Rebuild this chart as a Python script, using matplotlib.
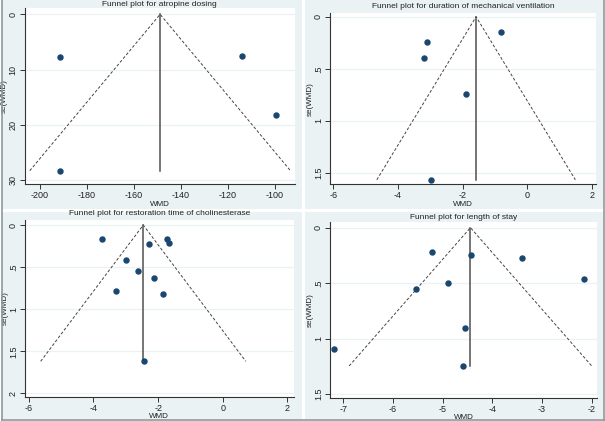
import matplotlib
matplotlib.use("Agg")
import matplotlib.pyplot as plt
from matplotlib.patches import Rectangle
from matplotlib.lines import Line2D

plt.rcParams['font.family'] = ['Liberation Sans', 'DejaVu Sans']

# data ------------------------------------------------------------------------
titles = ["Funnel plot for atropine dosing",
          "Funnel plot for duration of mechanical ventilation",
          "Funnel plot for restoration time of cholinesterase",
          "Funnel plot for length of stay"]

atropine_wmd = [-191.4, -114.2, -99.6, -191.4]
atropine_se = [7.8, 7.6, 18.3, 28.3]
atropine_pooled = -148.9

vent_wmd = [-3.10, -3.18, -0.80, -1.90, -2.98]
vent_se = [0.246, 0.40, 0.15, 0.746, 1.567]
vent_pooled = -1.58

chol_wmd = [-3.75, -1.71, -1.66, -2.27, -2.98, -2.61, -2.14, -3.29, -1.84, -2.45]
chol_se = [0.17, 0.17, 0.21, 0.22, 0.42, 0.55, 0.63, 0.78, 0.82, 1.62]
chol_pooled = -2.46

stay_wmd = [-7.18, -5.22, -5.53, -4.89, -4.43, -3.41, -2.15, -4.55, -4.60]
stay_se = [1.094, 0.22, 0.556, 0.496, 0.25, 0.27, 0.465, 0.907, 1.247]
stay_pooled = -4.44

xticks = [[-200, -180, -160, -140, -120, -100],
          [-6, -4, -2, 0, 2],
          [-6, -4, -2, 0, 2],
          [-7, -6, -5, -4, -3, -2]]
yticks = [[0, 10, 20, 30], [0, 0.5, 1, 1.5], [0, 0.5, 1, 1.5, 2], [0, 0.5, 1, 1.5]]
ylabels = [["0", "10", "20", "30"], ["0", ".5", "1", "1.5"],
           ["0", ".5", "1", "1.5", "2"], ["0", ".5", "1", "1.5"]]

# layout (pixels) -------------------------------------------------------------
W, H = 605, 421
BG = "#eaf2f3"
DOT = "#1a476f"

fig = plt.figure(figsize=(W / 100, H / 100), dpi=100)
fig.patch.set_facecolor("white")


def px_rect(x0, y0, x1, y1):
    return [x0 / W, 1 - y1 / H, (x1 - x0) / W, (y1 - y0) / H]


panels = [(2, 0, 301.5, 209), (304.5, 0, 603, 209),
          (2, 212, 301.5, 419), (304.5, 212, 603, 419)]
for x0, y0, x1, y1 in panels:
    fig.add_artist(Rectangle((x0 / W, 1 - y1 / H), (x1 - x0) / W, (y1 - y0) / H,
                             transform=fig.transFigure, facecolor=BG,
                             edgecolor="none", zorder=-5))
# outer frame
for xs, ys in [([1.5, 1.5], [0, 419.5]), ([603.5, 603.5], [0, 419.5]),
               ([1.5, 603.5], [419.5, 419.5])]:
    fig.add_artist(Line2D([x / W for x in xs], [1 - y / H for y in ys],
                          color="#8a9a9e", lw=1.2, transform=fig.transFigure))

axes_px = [(24.5, 8, 295, 184), (330, 13, 596, 184.3),
           (25, 220, 293.5, 396.7), (330, 222, 597, 397.7)]
xlims = [(-206.6, -91.5), (-6.10, 2.13), (-6.12, 2.19), (-7.27, -1.89)]
ylims = [(30.7, -1.14), (1.61, -0.036), (2.04, -0.06), (1.533, -0.051)]
title_y = [4, 6.5, 213.5, 217.5]

data = [(atropine_wmd, atropine_se, atropine_pooled),
        (vent_wmd, vent_se, vent_pooled),
        (chol_wmd, chol_se, chol_pooled),
        (stay_wmd, stay_se, stay_pooled)]

for i, (wmd, se, pooled) in enumerate(data):
    ax = fig.add_axes(px_rect(*axes_px[i]))
    ax.set_facecolor("white")
    top = max(se)
    # funnel limits
    ax.plot([pooled - 1.96 * top, pooled, pooled + 1.96 * top], [top, 0, top],
            color="#444444", lw=0.7, ls=(0, (3, 2)), zorder=2)
    ax.plot([pooled, pooled], [0, top], color="#505050", lw=1.1, zorder=2)
    ax.plot(wmd, se, "o", color=DOT, ms=3.6, mec=DOT, zorder=3)

    ax.set_xlim(*xlims[i])
    ax.set_ylim(*ylims[i])
    ax.set_xticks(xticks[i])
    ax.set_xticklabels([str(t) for t in xticks[i]])
    ax.set_yticks(yticks[i])
    ax.set_yticklabels(ylabels[i], rotation=90, va="center")
    ax.grid(axis="y", color=BG, lw=0.9)
    ax.set_axisbelow(True)
    for s in ("top", "right"):
        ax.spines[s].set_visible(False)
    for s in ("left", "bottom"):
        ax.spines[s].set_color("#333333")
        ax.spines[s].set_linewidth(0.8)
    ax.tick_params(length=3.5, width=0.7, color="#333333", labelsize=6.5,
                   labelcolor="#222222", pad=1.5)
    ax.set_xlabel("WMD", fontsize=5.8, labelpad=0.5, color="#222222")
    ax.set_ylabel("se(WMD)", fontsize=5.8, labelpad=0.5, color="#222222")

    l, t, r, b = axes_px[i]
    fig.text(((l + r) / 2) / W, 1 - title_y[i] / H, titles[i], ha="center",
             va="center", fontsize=6.0, color="#222222")

fig.savefig("out.png", dpi=100, facecolor="white")
